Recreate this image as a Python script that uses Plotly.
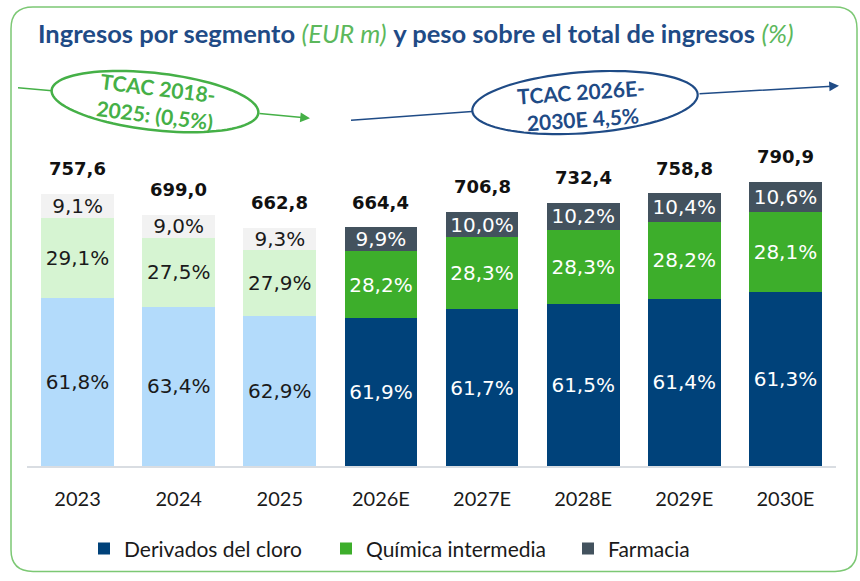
import math
import plotly.graph_objects as go

# ---- data -------------------------------------------------------------
years_hist = ["2023", "2024", "2025"]
years_fcst = ["2026E", "2027E", "2028E", "2029E", "2030E"]
years = years_hist + years_fcst

totals = [757.6, 699.0, 662.8, 664.4, 706.8, 732.4, 758.8, 790.9]
pct_cloro = [61.8, 63.4, 62.9, 61.9, 61.7, 61.5, 61.4, 61.3]
pct_quimica = [29.1, 27.5, 27.9, 28.2, 28.3, 28.3, 28.2, 28.1]
pct_farmacia = [9.1, 9.0, 9.3, 9.9, 10.0, 10.2, 10.4, 10.6]

segments = ["Derivados del cloro", "Química intermedia", "Farmacia"]
colors_fcst = ["#00427a", "#3dae2b", "#43525e"]
colors_hist = ["#b3dbfb", "#d6f4d2", "#f2f2f2"]
text_fcst = "#ffffff"
text_hist = "#1a1a1a"

cagr_hist = "TCAC 2018-<br>2025: (0,5%)"
cagr_fcst = "TCAC 2026E-<br>2030E 4,5%"

# ---- layout geometry (pixels) -----------------------------------------
W, H = 860, 581
ML, MR, MT, MB = 27, 24, 140, 110
PW, PH = W - ML - MR, H - MT - MB
Y_MAX = 907


def px(x):
    return (x - ML) / PW


def py(y):
    return (H - MB - y) / PH


def fmt(v):
    return f"{v:.1f}".replace(".", ",")


fig = go.Figure()

pcts = [pct_cloro, pct_quimica, pct_farmacia]
n_hist = len(years_hist)

for k, name in enumerate(segments):
    vals = [t * p / 100 for t, p in zip(totals, pcts[k])]
    labels = [fmt(p) + "%" for p in pcts[k]]
    fig.add_trace(go.Bar(
        x=years_hist, y=vals[:n_hist], name=name, showlegend=False,
        marker=dict(color=colors_hist[k], line=dict(width=0)),
        text=labels[:n_hist], textposition="inside", insidetextanchor="middle",
        textfont=dict(family="DejaVu Sans", size=20, color=text_hist),
        hoverinfo="skip",
    ))
for k, name in enumerate(segments):
    vals = [t * p / 100 for t, p in zip(totals, pcts[k])]
    labels = [fmt(p) + "%" for p in pcts[k]]
    fig.add_trace(go.Bar(
        x=years_fcst, y=vals[n_hist:], name=name,
        marker=dict(color=colors_fcst[k], line=dict(width=0)),
        text=labels[n_hist:], textposition="inside", insidetextanchor="middle",
        textfont=dict(family="DejaVu Sans", size=20, color=text_fcst),
        hoverinfo="skip",
    ))

# totals above each stack (x given as category index)
for i, t in enumerate(totals):
    fig.add_annotation(
        x=i, y=t, xref="x", yref="y", text=f"<b>{fmt(t)}</b>",
        showarrow=False, xanchor="center", yanchor="middle", yshift=25,
        font=dict(family="DejaVu Sans", size=18, color="#111111"),
    )

shapes = []

# rounded frame
x0, y0, x1, y1, r = 11, 5, 857, 578, 22
frame = (
    f"M {px(x0 + r)},{py(y0)} L {px(x1 - r)},{py(y0)} "
    f"Q {px(x1)},{py(y0)} {px(x1)},{py(y0 + r)} "
    f"L {px(x1)},{py(y1 - r)} Q {px(x1)},{py(y1)} {px(x1 - r)},{py(y1)} "
    f"L {px(x0 + r)},{py(y1)} Q {px(x0)},{py(y1)} {px(x0)},{py(y1 - r)} "
    f"L {px(x0)},{py(y0 + r)} Q {px(x0)},{py(y0)} {px(x0 + r)},{py(y0)} Z"
)
shapes.append(dict(type="path", xref="paper", yref="paper", path=frame,
                   line=dict(color="#7cc874", width=1.5), layer="below"))


def ellipse_path(cx, cy, rx, ry, deg, n=90):
    a = math.radians(deg)
    pts = []
    for i in range(n):
        t = 2 * math.pi * i / n
        ex, ey = rx * math.cos(t), ry * math.sin(t)
        X = cx + ex * math.cos(a) - ey * math.sin(a)
        Y = cy + ex * math.sin(a) + ey * math.cos(a)
        pts.append(f"{px(X):.5f},{py(Y):.5f}")
    return "M " + " L ".join(pts) + " Z"


GREEN = "#45b047"
NAVY = "#1f4b86"

shapes.append(dict(type="path", xref="paper", yref="paper",
                   path=ellipse_path(155, 101, 104, 29, 6.5),
                   line=dict(color=GREEN, width=2.5)))
shapes.append(dict(type="path", xref="paper", yref="paper",
                   path=ellipse_path(585, 102, 113, 31, -4.3),
                   line=dict(color=NAVY, width=2.2)))

# connector lines
shapes.append(dict(type="line", xref="paper", yref="paper",
                   x0=px(18), y0=py(87), x1=px(52), y1=py(90),
                   line=dict(color=GREEN, width=1.5)))
shapes.append(dict(type="line", xref="paper", yref="paper",
                   x0=px(351), y0=py(120), x1=px(472), y1=py(111),
                   line=dict(color=NAVY, width=1.5)))

fig.update_layout(shapes=shapes)

# arrows
fig.add_annotation(xref="paper", yref="paper", axref="pixel", ayref="pixel",
                   x=px(310), y=py(118), ax=-52, ay=-5, text="",
                   showarrow=True, arrowhead=2, arrowsize=1.3, arrowwidth=1.5,
                   arrowcolor=GREEN)
fig.add_annotation(xref="paper", yref="paper", axref="pixel", ayref="pixel",
                   x=px(839), y=py(85), ax=-141, ay=8, text="",
                   showarrow=True, arrowhead=2, arrowsize=1.3, arrowwidth=1.5,
                   arrowcolor=NAVY)

# CAGR texts
fig.add_annotation(xref="paper", yref="paper", x=px(156), y=py(100),
                   xanchor="center", yanchor="middle",
                   text=f"<b>{cagr_hist}</b>", showarrow=False, textangle=7,
                   font=dict(family="Lato", size=21, color=GREEN))
fig.add_annotation(xref="paper", yref="paper", x=px(582), y=py(104),
                   xanchor="center", yanchor="middle",
                   text=f"<b>{cagr_fcst}</b>", showarrow=False, textangle=-4,
                   font=dict(family="Lato", size=21, color=NAVY))

title = (
    "<b>Ingresos por segmento</b> "
    "<span style='color:#5cb85c'><i>(EUR m)</i></span> "
    "<b>y peso sobre el total de ingresos</b> "
    "<span style='color:#5cb85c'><i>(%)</i></span>"
)

fig.update_layout(
    width=W, height=H,
    margin=dict(l=ML, r=MR, t=MT, b=MB),
    paper_bgcolor="white", plot_bgcolor="white",
    barmode="stack", bargap=0.28,
    title=dict(text=title, x=38 / W, xanchor="left", xref="container",
               y=1 - 34 / H, yanchor="middle", yref="container",
               font=dict(family="Lato", size=25.5, color=NAVY)),
    uniformtext=dict(mode="show", minsize=20),
    xaxis=dict(type="category", categoryorder="array", categoryarray=years,
               range=[-0.5, len(years) - 0.5],
               showline=True, linecolor="#d9dde2", linewidth=2,
               ticks="outside", ticklen=14, tickcolor="rgba(0,0,0,0)",
               tickfont=dict(family="Lato", size=20, color="#1a1a1a"),
               showgrid=False, fixedrange=True),
    yaxis=dict(range=[0, Y_MAX], visible=False, showgrid=False, fixedrange=True),
    legend=dict(orientation="h", x=px(84), xanchor="left",
                y=py(555), yanchor="middle", bgcolor="rgba(0,0,0,0)",
                font=dict(family="Lato", size=21, color="#1a1a1a"),
                entrywidth=197, entrywidthmode="pixels",
                traceorder="normal"),
    showlegend=True,
)

fig.write_html("out.html")
